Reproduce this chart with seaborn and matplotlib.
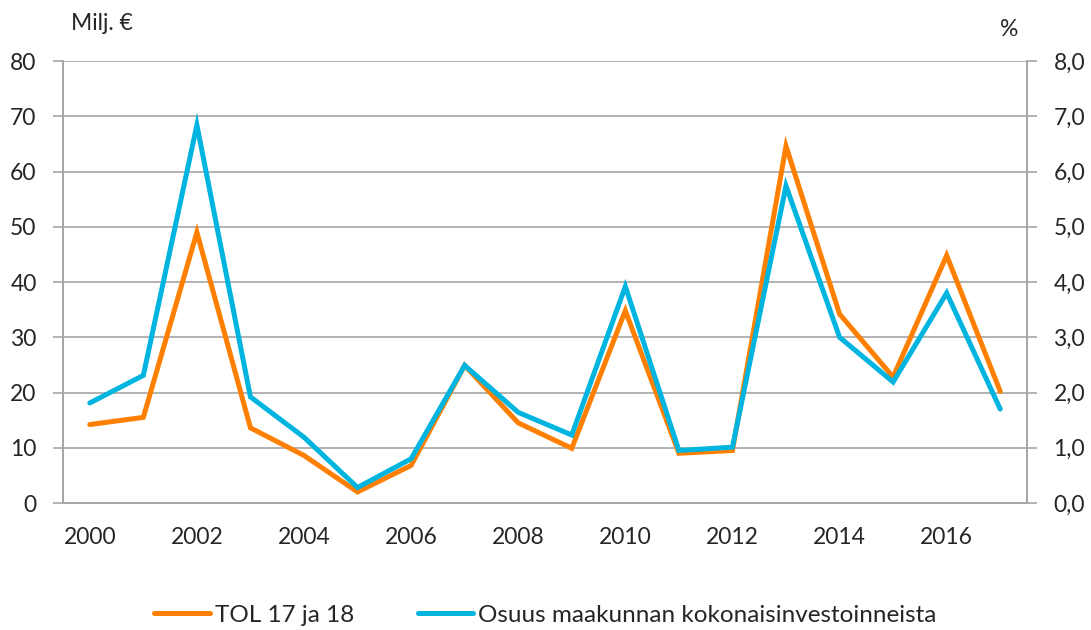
import matplotlib
matplotlib.use("Agg")
import matplotlib.pyplot as plt
import matplotlib.ticker as mticker
import seaborn as sns
import pandas as pd

years = list(range(2000, 2018))
tol_values = [14.2, 15.5, 49.0, 13.6, 8.6, 2.0, 6.8, 24.9, 14.5, 9.9,
              34.8, 9.0, 9.5, 64.6, 34.2, 22.8, 44.8, 20.2]
share_values = [1.81, 2.31, 6.84, 1.92, 1.19, 0.28, 0.80, 2.49, 1.64, 1.23,
                3.92, 0.95, 1.01, 5.74, 3.00, 2.19, 3.80, 1.70]
x_labels = [str(y) if y % 2 == 0 else "" for y in years]

orange = "#FF8000"
blue = "#00B4E0"
grid_c = "#A6A6A6"
fs = 16.5

sns.set_style("white")
plt.rcParams["font.family"] = ["Lato", "DejaVu Sans"]

df = pd.DataFrame({"pos": range(len(years)), "tol": tol_values, "share": share_values})

fig = plt.figure(figsize=(10.91, 6.30), dpi=100)
ax = fig.add_axes([63 / 1091, 1 - 503 / 630, (1027 - 63) / 1091, (503 - 61) / 630])
ax2 = ax.twinx()

sns.lineplot(data=df, x="pos", y="tol", ax=ax, color=orange, linewidth=3.6,
             label="TOL 17 ja 18", legend=False)
sns.lineplot(data=df, x="pos", y="share", ax=ax2, color=blue, linewidth=3.6,
             label="Osuus maakunnan kokonaisinvestoinneista", legend=False)
for a in (ax, ax2):
    for ln in a.lines:
        ln.set_solid_capstyle("round")
        ln.set_solid_joinstyle("miter")

ax.set_xlim(-0.5, len(years) - 0.5)
ax.set_ylim(0, 80)
ax2.set_ylim(0, 8)
ax.set_yticks(range(0, 81, 10))
ax2.set_yticks([i for i in range(0, 9)])
ax2.yaxis.set_major_formatter(mticker.FuncFormatter(lambda v, p: f"{v:.1f}".replace(".", ",")))

ax.set_xticks(range(len(years)))
ax.set_xticklabels(x_labels)
ax.set_xticks([i - 0.5 for i in range(len(years) + 1)], minor=True)
ax.tick_params(axis="x", which="major", length=0, pad=17, labelsize=fs)
ax.tick_params(axis="x", which="minor", length=6, color=grid_c, width=1.2)
ax.tick_params(axis="y", length=7, color=grid_c, width=1.2, labelsize=fs, pad=12)
ax2.tick_params(axis="y", length=7, color=grid_c, width=1.2, labelsize=fs, pad=12)

ax.grid(axis="y", color=grid_c, linewidth=1.2)
ax.set_axisbelow(True)
ax.set_xlabel("")
ax.set_ylabel("")
ax2.set_ylabel("")

for a in (ax, ax2):
    a.spines["top"].set_visible(False)
    for s in ("left", "right", "bottom"):
        a.spines[s].set_color(grid_c)
        a.spines[s].set_linewidth(1.2)

fig.text(71 / 1091, 1 - 24 / 630, "Milj. €", fontsize=fs, va="center", ha="left")
fig.text(1009 / 1091, 1 - 29 / 630, "%", fontsize=fs, va="center", ha="center")

handles = ax.lines[:1] + ax2.lines[:1]
labels = ["TOL 17 ja 18", "Osuus maakunnan kokonaisinvestoinneista"]
fig.legend(handles, labels, loc="center", bbox_to_anchor=(0.5, 1 - 615 / 630),
           ncol=2, frameon=False, fontsize=17.5, handlelength=2.3,
           handletextpad=0.2, columnspacing=2.6, borderpad=0)

fig.savefig("out.png", dpi=100)
